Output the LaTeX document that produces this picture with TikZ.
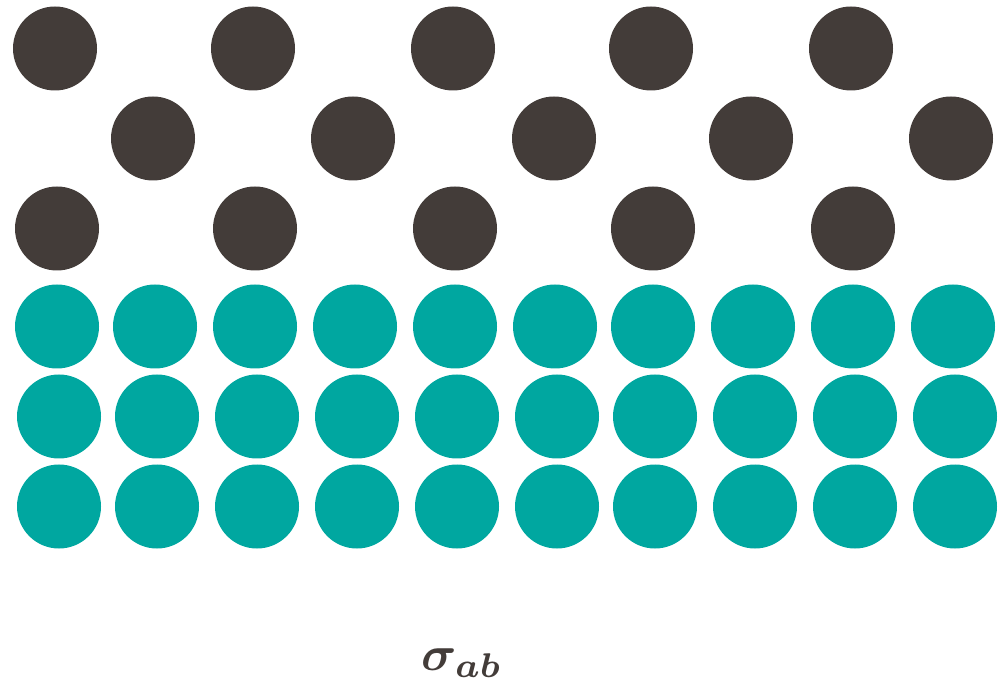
\documentclass[tikz,border=0pt]{standalone}
\usepackage{amsmath,bm}
\definecolor{darkdot}{HTML}{433C39}
\definecolor{tealdot}{HTML}{00A7A0}
\begin{document}
\begin{tikzpicture}[x=1pt,y=-1pt,
  dk/.style={fill=darkdot,draw=none},
  tl/.style={fill=tealdot,draw=none}]
\useasboundingbox (0,0) rectangle (999,692);
% dark rows
\foreach \x [count=\i] in {55,253,453,651,851} \fill[dk] (\x,48.5) circle (42) coordinate (da\i);
\foreach \x [count=\i] in {153,353,554,751,951} \fill[dk] (\x,138.5) circle (42) coordinate (db\i);
\foreach \x [count=\i] in {57,255,455,653,853} \fill[dk] (\x,228.5) circle (42) coordinate (dc\i);
% teal rows
\foreach \x [count=\i] in {57,155,255,355,455,555,653,753,853,953} \fill[tl] (\x,326.5) circle (42) coordinate (ta\i);
\foreach \x [count=\i] in {59,157,257,357,457,557,655,755,855,955} \fill[tl] (\x,416.5) circle (42) coordinate (tb\i);
\foreach \x [count=\i] in {59,157,257,357,457,557,655,755,855,955} \fill[tl] (\x,506.5) circle (42) coordinate (tc\i);
\node[text=darkdot,inner sep=0pt,scale=4.9] (lbl) at (462,663) {$\bm{\sigma}_{\bm{ab}}$};
\end{tikzpicture}
\end{document}
